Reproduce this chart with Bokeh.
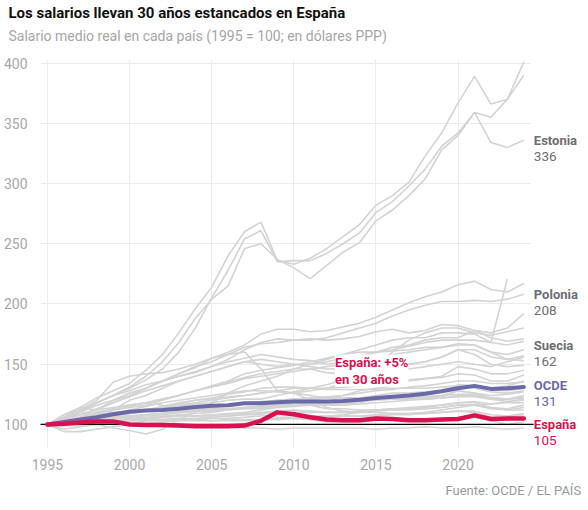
import math
from bokeh.plotting import figure
from bokeh.models import FixedTicker, Label, Title
from bokeh.embed import file_html
from bokeh.resources import INLINE

nan = float("nan")

years = list(range(1995, 2025))
x_ticks = [1995, 2000, 2005, 2010, 2015, 2020]
y_ticks = [100, 150, 200, 250, 300, 350, 400]
baseline_value = 100

title_text = "Los salarios llevan 30 años estancados en España"
subtitle_text = "Salario medio real en cada país (1995 = 100; en dólares PPP)"
source_text = "Fuente: OCDE / EL PAÍS"
note_text = "España: +5%\nen 30 años"

espana = [100, 100.5, 101.5, 102.5, 102.5, 100, 99.5, 99.5, 99, 98.5, 98.5, 98.5, 99, 103, 110, 108.5,
          106, 104, 103.5, 103.5, 105, 104.5, 103.5, 103.5, 104, 104.5, 107.5, 104.5, 105, 105]
ocde = [100, 102, 104, 106, 108.5, 110.5, 111.5, 112, 113, 114.5, 115.5, 116, 117.5, 117.5, 118.5, 119,
        119, 119, 119.5, 120.5, 122, 123, 124, 125.5, 127.5, 130, 132, 129.5, 130, 131]

lituania = [100, 103, 110, 118, 124, 130, 137, 146, 160, 180, 205, 228, 254, 261, 235, 236, 236, 242, 250, 259,
            276, 285, 298, 312, 331, 342, 359, 355, 370, 401]
letonia = [100, 106, 114, 122, 128, 134, 145, 158, 176, 196, 214, 240, 260, 268, 236, 233, 238, 246, 256, 266,
           282, 290, 301, 323, 342, 367, 389, 366, 370, 390]
estonia = [100, 104, 111, 118, 124, 131, 140, 152, 168, 188, 204, 215, 246, 250, 237, 230, 221, 232, 243, 251,
           269, 278, 290, 304, 328, 340, 359, 334, 330, 336]
eslovaquia = [100, 104, 110, 116, 120, 124, 130, 136, 142, 147, 155, 160, 166, 175, 179, 179, 177, 178, 181, 184,
              189, 195, 201, 206, 210, 216, 219, 212, 210, 217]
polonia = [100, 106, 112, 118, 124, 128, 133, 136, 140, 143, 148, 154, 162, 168, 171, 170, 170, 172, 176, 180,
           184, 190, 195, 199, 202, 202, 203, 202, 204, 208]
hungria = [100, 102, 106, 112, 118, 124, 130, 136, 140, 144, 148, 152, 155, 158, 156, 154, 153, 150, 152, 156,
           160, 164, 166, 170, 172, 172, 178, 176, 180, 192]
turquia = [100, 96, 98, 100, 97, 95, 92, 96, 104, 110, 118, 126, 132, 136, 140, 146, 150, 154, 158, 162,
           166, 170, 172, 172, 176, 176, 175, 168, 221, nan]
islandia = [100, 105, 112, 120, 135, 140, 142, 143, 146, 150, 155, 158, 160, 146, 128, 126, 128, 130, 134, 140,
            150, 160, 170, 176, 180, 180, 176, 174, 177, 180]
chequia = [100, 108, 114, 112, 120, 126, 130, 136, 142, 148, 152, 158, 164, 167, 168, 170, 171, 170, 171, 173,
           177, 179, 176, 178, 183, 182, 178, 172, 169, 171]
corea = [100, 106, 112, 102, 112, 120, 124, 130, 136, 140, 144, 148, 152, 150, 148, 150, 150, 152, 155, 157,
         160, 162, 165, 168, 170, 170, 170, 168, 166, 169]
suecia = [100, 102, 105, 110, 113, 116, 118, 121, 124, 128, 131, 134, 138, 140, 142, 144, 146, 148, 150, 152,
          155, 158, 160, 162, 164, 166, 166, 160, 158, 162]
eslovenia = [100, 103, 106, 109, 112, 115, 118, 121, 124, 128, 131, 135, 139, 142, 144, 146, 146, 143, 142, 143,
             145, 147, 150, 152, 156, 162, 162, 156, 154, 157]
noruega = [100, 102, 105, 109, 112, 114, 116, 120, 124, 128, 132, 136, 142, 145, 147, 149, 152, 155, 158, 160,
           160, 161, 162, 164, 164, 167, 166, 160, 154, 153]
irlanda = [100, 104, 108, 113, 118, 123, 128, 132, 136, 140, 144, 148, 152, 154, 152, 150, 148, 146, 146, 146,
           148, 150, 150, 152, 156, 162, 158, 150, 148, 149]
israel = [100, 104, 108, 112, 114, 116, 118, 116, 112, 112, 114, 116, 118, 118, 118, 120, 121, 122, 124, 128,
          130, 132, 136, 138, 140, 148, 146, 142, 142, 145]
dinamarca = [100, 102, 104, 106, 108, 110, 112, 114, 116, 118, 120, 122, 124, 126, 128, 130, 130, 130, 131, 132,
             134, 136, 137, 138, 139, 142, 141, 136, 136, 141]
chile = [100, 103, 106, 108, 110, 111, 112, 114, 115, 117, 118, 120, 121, 121, 124, 127, 130, 133, 137, 140,
         142, 144, 146, 148, 150, 152, 150, 148, 152, 156]
nueva_zelanda = [100, 101, 103, 104, 105, 106, 107, 108, 110, 112, 114, 116, 118, 119, 120, 121, 122, 123, 124, 126,
                 128, 129, 131, 132, 134, 136, 136, 134, 134, 135]
eeuu = [100, 101, 102, 104, 106, 107, 108, 109, 110, 111, 111, 112, 113, 113, 115, 116, 116, 116, 117, 118,
        121, 122, 123, 125, 127, 133, 132, 130, 132, 136]
finlandia = [100, 101, 103, 105, 107, 109, 112, 114, 117, 120, 122, 125, 127, 130, 131, 131, 130, 129, 129, 129,
             129, 130, 130, 130, 131, 132, 132, 129, 128, 130]
reino_unido = [100, 101, 103, 106, 109, 112, 115, 118, 120, 122, 124, 126, 128, 128, 127, 126, 124, 122, 122, 122,
               124, 126, 126, 127, 128, 131, 130, 127, 126, 128]
canada = [100, 100, 101, 102, 103, 105, 106, 107, 108, 109, 110, 112, 114, 115, 116, 117, 117, 118, 119, 120,
          121, 121, 122, 122, 123, 128, 126, 124, 125, 127]
australia = [100, 101, 102, 104, 106, 107, 108, 109, 111, 112, 114, 116, 117, 118, 120, 121, 121, 122, 122, 122,
             122, 122, 123, 123, 124, 128, 126, 122, 121, 124]
mexico = [100, 94, 94, 96, 98, 100, 103, 104, 105, 105, 106, 107, 108, 108, 106, 106, 106, 106, 107, 107,
          108, 109, 109, 110, 112, 114, 116, 117, 119, 121]
suiza = [100, 100, 100, 101, 102, 103, 104, 106, 107, 107, 108, 109, 110, 112, 114, 115, 116, 117, 118, 119,
         120, 121, 121, 121, 122, 123, 123, 121, 119, 120]
francia = [100, 101, 102, 104, 106, 107, 108, 109, 110, 111, 112, 113, 114, 115, 116, 117, 117, 118, 119, 120,
           121, 122, 122, 123, 124, 125, 125, 122, 121, 122]
portugal = [100, 101, 103, 105, 107, 109, 111, 112, 112, 112, 113, 113, 113, 115, 117, 118, 116, 113, 113, 112,
            112, 112, 113, 114, 116, 118, 119, 117, 118, 118]
alemania = [100, 100, 100, 101, 102, 103, 104, 104, 104, 104, 103, 103, 103, 104, 104, 105, 106, 107, 108, 110,
            112, 113, 114, 115, 116, 118, 118, 114, 113, 116]
paises_bajos = [100, 100, 101, 102, 103, 104, 105, 106, 107, 107, 108, 108, 109, 110, 111, 112, 111, 110, 110, 111,
                112, 113, 113, 113, 114, 116, 116, 113, 112, 114]
belgica = [100, 100, 101, 102, 103, 104, 105, 106, 107, 107, 107, 107, 108, 109, 110, 110, 110, 110, 110, 110,
           111, 112, 112, 113, 114, 116, 116, 114, 112, 112]
austria = [100, 100, 100, 101, 102, 103, 103, 103, 104, 104, 105, 105, 106, 107, 108, 108, 107, 107, 107, 107,
           107, 108, 108, 109, 110, 111, 111, 108, 107, 109]
grecia = [100, 101, 103, 105, 107, 110, 112, 115, 118, 120, 121, 123, 124, 126, 128, 126, 120, 114, 111, 110,
          110, 109, 109, 109, 110, 111, 110, 106, 106, 108]
italia = [100, 99, 99, 100, 101, 101, 101, 102, 103, 103, 103, 104, 104, 104, 105, 105, 104, 102, 102, 102,
          103, 104, 104, 104, 104, 104, 106, 103, 100, 102]
japon = [100, 101, 101, 101, 100, 100, 99, 98, 98, 98, 98, 98, 97, 97, 96, 97, 97, 97, 97, 97,
         96, 97, 97, 98, 97, 97, 98, 97, 96, 97]
luxemburgo = [100, 101, 102, 104, 105, 106, 108, 109, 110, 111, 112, 113, 114, 114, 115, 116, 116, 116, 116, 117,
              118, 119, 120, 121, 122, 124, 124, 121, 121, 123]

gray_series = [japon, italia, grecia, austria, belgica, paises_bajos, alemania, portugal, francia, suiza,
               mexico, australia, canada, reino_unido, finlandia, eeuu, nueva_zelanda, luxemburgo, chile,
               dinamarca, israel, irlanda, noruega, eslovenia, suecia, corea, chequia, islandia, turquia,
               hungria, polonia, eslovaquia, estonia, letonia, lituania]

label_names = ["Estonia", "Polonia", "Suecia", "OCDE", "España"]
label_series = [estonia, polonia, suecia, ocde, espana]

FONT = "Roboto"
GRAY = "#d3d3d3"
PURPLE = "#6b6aa9"
RED = "#d7124f"
LABEL_GRAY = "#6e6e6e"
label_colors = [LABEL_GRAY, LABEL_GRAY, LABEL_GRAY, PURPLE, RED]
label_shift = [0, 0, 4, 2, -6]

W, H = 584, 506
LEFT = 32
PX_PER_YEAR = 16.67
FRAME_W = W - LEFT
x_lo = years[0] - 7 / PX_PER_YEAR
x_hi = x_lo + FRAME_W / PX_PER_YEAR
grid_x_end = years[-1] + 0.43

p = figure(width=W, height=H, output_backend="svg", toolbar_location=None,
           x_range=(x_lo, x_hi), y_range=(80, 403),
           min_border_left=LEFT, min_border_right=0, min_border_top=59, min_border_bottom=52)
p.outline_line_color = None
p.background_fill_color = "white"
p.border_fill_color = "white"

p.xaxis.ticker = FixedTicker(ticks=x_ticks)
p.yaxis.ticker = FixedTicker(ticks=y_ticks)
p.xgrid.ticker = FixedTicker(ticks=x_ticks)
p.ygrid.ticker = FixedTicker(ticks=y_ticks)
p.grid.grid_line_color = "#ebebeb"
p.grid.grid_line_width = 1
p.ygrid.cross_bounds = (x_lo, grid_x_end)
for ax in (p.xaxis, p.yaxis):
    ax.axis_line_color = None
    ax.major_tick_line_color = None
    ax.minor_tick_line_color = None
    ax.major_label_text_color = "#a8a8a8"
    ax.major_label_text_font = FONT
    ax.major_label_text_font_size = "14px"
p.xaxis.major_label_standoff = 4
p.yaxis.major_label_standoff = 7

for s in gray_series:
    p.line(years, s, line_color=GRAY, line_width=1.6)

p.segment(x0=[years[0] - 0.55], x1=[years[-1] + 0.6], y0=[baseline_value], y1=[baseline_value],
          line_color="black", line_width=1.2)

p.line(years, ocde, line_color=PURPLE, line_width=4, line_join="round", line_cap="round")
p.line(years, espana, line_color=RED, line_width=4.5, line_join="round", line_cap="round")

for name, s, col, sh in zip(label_names, label_series, label_colors, label_shift):
    v = s[-1]
    p.add_layout(Label(x=years[-1], y=v, x_offset=10, y_offset=sh, text=name,
                       text_font=FONT, text_font_style="bold", text_font_size="13px",
                       text_color=col, text_baseline="middle", text_align="left"))
    p.add_layout(Label(x=years[-1], y=v, x_offset=10, y_offset=sh - 16, text=str(round(v)),
                       text_font=FONT, text_font_size="13.5px",
                       text_color=col, text_baseline="middle", text_align="left"))

p.add_layout(Label(x=2012.5, y=158, text=note_text, text_font=FONT, text_font_style="bold",
                   text_font_size="13px", text_color=RED, text_align="left", text_baseline="top",
                   background_fill_color="white", text_line_height=1.15))

p.add_layout(Title(text=subtitle_text, text_font=FONT, text_font_style="normal", text_font_size="14px",
                   text_color="#a6a6a6", offset=-32, standoff=31), "above")
p.add_layout(Title(text=title_text, text_font=FONT, text_font_style="bold", text_font_size="15px",
                   text_color="#111111", offset=-32, standoff=-22), "above")
p.add_layout(Title(text=source_text, text_font=FONT, text_font_style="normal", text_font_size="13px",
                   text_color="#9a9a9a", align="left", offset=405, standoff=17), "below")

open("out.html", "w").write(file_html(p, INLINE))
